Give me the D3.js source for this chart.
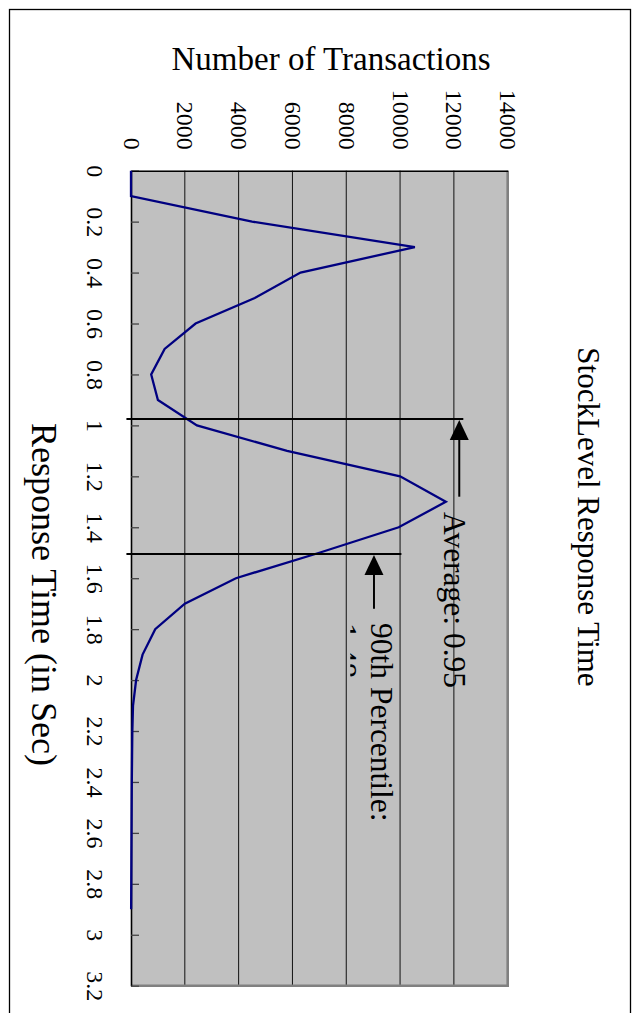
<!DOCTYPE html>
<html>
<head>
<meta charset="utf-8">
<script src="https://cdn.jsdelivr.net/npm/d3@7"></script>
<style>
  body { margin: 0; background: #fff; }
  text { font-family: "Liberation Serif", "Times New Roman", serif; fill: #000; }
</style>
</head>
<body>
<script>
// Response time buckets (sec) and number of transactions in each
const times = [0, 0.1, 0.2, 0.3, 0.4, 0.5, 0.6, 0.7, 0.8, 0.9,
               1.0, 1.1, 1.2, 1.3, 1.4, 1.5, 1.6, 1.7, 1.8, 1.9,
               2.0, 2.1, 2.2, 2.3, 2.4, 2.5, 2.6, 2.7, 2.8, 2.9];
const counts = [0, 0, 4500, 10550, 6300, 4600, 2400, 1250, 750, 1000,
                2450, 5800, 10000, 11700, 9950, 7000, 3900, 2000, 900, 430,
                190, 75, 50, 40, 30, 25, 20, 15, 10, 5];

// Axis ticks
const timeTicks = [0, 0.2, 0.4, 0.6, 0.8, 1, 1.2, 1.4, 1.6, 1.8, 2, 2.2, 2.4, 2.6, 2.8, 3, 3.2];
const countTicks = [0, 2000, 4000, 6000, 8000, 10000, 12000, 14000];

// Marker lines (average / 90th percentile), in data units
const markerNames = ["Average: 0.95", "90th Percentile:"];
const markerSecondLine = ["", "1.48"];
const markerTimes = [0.975, 1.505];
const markerEnds = [12350, 10050];
const arrowCounts = [12200, 9030];
const arrowTails = [1.28, 1.72];
const labelTimes = [1.34, 1.776];
const labelCounts = [11650, 8920];

const W = 637, H = 1013;
const plot = { left: 131, right: 507.7, top: 170.7, bottom: 985.7 };

const svg = d3.select("body").append("svg")
    .attr("width", W)
    .attr("height", H);

// Outer frame
svg.append("rect")
    .attr("x", 9.5).attr("y", 9.5)
    .attr("width", 621).attr("height", 1012)
    .attr("fill", "none")
    .attr("stroke", "#000")
    .attr("stroke-width", 1.3);

// Scales: chart is turned on its side, time runs down, count runs right
const y = d3.scaleLinear().domain([0, 3.2]).range([plot.top, plot.bottom]);
const x = d3.scaleLinear().domain([0, 14000]).range([plot.left, plot.right]);

// Plot area
svg.append("rect")
    .attr("x", plot.left).attr("y", plot.top)
    .attr("width", plot.right - plot.left)
    .attr("height", plot.bottom - plot.top)
    .attr("fill", "#c0c0c0");

// Gridlines
svg.append("g")
    .selectAll("line")
    .data(countTicks.slice(1, -1))
    .join("line")
    .attr("x1", d => x(d)).attr("x2", d => x(d))
    .attr("y1", plot.top).attr("y2", plot.bottom)
    .attr("stroke", "#111")
    .attr("stroke-width", 1);

// Gray border on the far sides
svg.append("path")
    .attr("d", `M${plot.right},${plot.top}V${plot.bottom}H${plot.left}`)
    .attr("fill", "none")
    .attr("stroke", "#808080")
    .attr("stroke-width", 2.6);

// Time axis (left)
const gy = svg.append("g")
    .attr("transform", `translate(${plot.left},0)`)
    .call(d3.axisLeft(y).tickValues(timeTicks).tickSize(-8).tickSizeOuter(0)
        .tickFormat(d3.format("~g")));
gy.select(".domain").attr("stroke", "#000").attr("stroke-width", 1.6);
gy.selectAll(".tick line").attr("stroke", "#444").attr("stroke-width", 1.3);
gy.selectAll(".tick text")
    .attr("x", null).attr("dy", null)
    .attr("text-anchor", "middle")
    .attr("transform", "translate(-44,0) rotate(90)")
    .style("font-family", "Liberation Serif")
    .style("font-size", "24px");

// Count axis (top)
const gx = svg.append("g")
    .attr("transform", `translate(0,${plot.top})`)
    .call(d3.axisTop(x).tickValues(countTicks).tickSize(0).tickSizeOuter(0)
        .tickFormat(d3.format("d")));
gx.select(".domain").attr("stroke", "#000").attr("stroke-width", 1.6);
gx.selectAll(".tick text")
    .attr("y", null).attr("dy", null)
    .attr("text-anchor", "end")
    .attr("transform", "translate(-8,-21) rotate(90)")
    .style("font-family", "Liberation Serif")
    .style("font-size", "24px");

// Response time line
const series = times.map((t, i) => ({ t: t, v: counts[i] }));
svg.append("path")
    .datum(series)
    .attr("fill", "none")
    .attr("stroke", "#000080")
    .attr("stroke-width", 2.3)
    .attr("stroke-linejoin", "miter")
    .attr("d", d3.line().x(d => x(d.v)).y(d => y(d.t)));

// Marker lines
svg.append("g")
    .selectAll("line")
    .data(markerTimes)
    .join("line")
    .attr("x1", x(-170))
    .attr("x2", (d, i) => x(markerEnds[i]))
    .attr("y1", d => y(d)).attr("y2", d => y(d))
    .attr("stroke", "#000")
    .attr("stroke-width", 2);

// Arrows pointing at the marker lines
markerTimes.forEach((t, i) => {
    const ax = x(arrowCounts[i]);
    const tip = y(t) + 1;
    svg.append("line")
        .attr("x1", ax).attr("x2", ax)
        .attr("y1", tip + 18).attr("y2", y(arrowTails[i]))
        .attr("stroke", "#000")
        .attr("stroke-width", 2);
    svg.append("path")
        .attr("d", `M${ax},${tip}L${ax - 9.5},${tip + 20}L${ax + 9.5},${tip + 20}Z`)
        .attr("fill", "#000");
});

// Marker labels (the text box cuts off the second line of the 90th label)
svg.append("clipPath").attr("id", "labelClip")
    .append("rect")
    .attr("x", x(8150)).attr("y", 0)
    .attr("width", W).attr("height", H);

const labels = svg.append("g").attr("clip-path", "url(#labelClip)");
markerNames.forEach((name, i) => {
    const t = labels.append("text")
        .attr("transform", `translate(${x(labelCounts[i])},${y(labelTimes[i])}) rotate(90)`)
        .style("font-size", "31.5px");
    t.append("tspan").attr("x", 0).attr("y", 0).text(name);
    if (markerSecondLine[i]) {
        t.append("tspan").attr("x", 0).attr("y", 36).text(markerSecondLine[i]);
    }
});

// Chart title
svg.append("text")
    .attr("transform", "translate(578,517) rotate(90)")
    .attr("text-anchor", "middle")
    .style("font-size", "31px")
    .text("StockLevel Response Time");

// Axis titles
svg.append("text")
    .attr("x", 331)
    .attr("y", 70)
    .attr("text-anchor", "middle")
    .style("font-size", "33px")
    .text("Number of Transactions");

svg.append("text")
    .attr("transform", "translate(32,423) rotate(90)")
    .attr("text-anchor", "start")
    .style("font-size", "36px")
    .text("Response Time (in Sec)");
</script>
</body>
</html>
